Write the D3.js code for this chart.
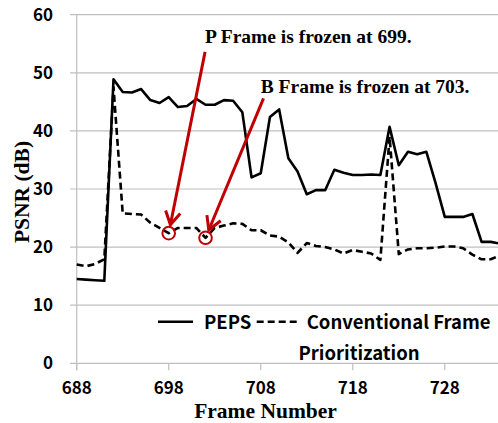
<!DOCTYPE html>
<html><head><meta charset="utf-8">
<script src="https://cdn.jsdelivr.net/npm/d3@7"></script>
<style>body{margin:0;background:#fff;}svg{display:block;}</style>
</head><body>
<svg id="c" width="498" height="423"></svg>
<script>
const frames = d3.range(688, 735);
const peps = [14.5,14.4,14.3,14.2,48.9,46.7,46.6,47.2,45.3,44.8,45.8,44.1,44.3,45.5,44.5,44.5,45.3,45.2,43.2,32.0,32.7,42.4,43.7,35.3,33.0,29.1,29.8,29.8,33.3,32.8,32.4,32.4,32.5,32.4,40.7,34.1,36.4,36.0,36.4,31.0,25.2,25.2,25.2,25.7,20.9,20.9,20.6];
const conv = [17.0,16.7,17.1,17.9,47.5,25.8,25.7,25.6,24.2,23.3,22.4,23.3,23.3,23.3,21.6,23.3,23.7,24.1,24.0,22.9,22.9,22.0,21.8,20.8,19.0,20.7,20.2,20.0,19.6,18.9,19.5,19.2,18.9,17.8,39.0,18.8,19.6,19.8,19.8,19.9,20.1,20.1,19.8,18.7,17.9,17.9,18.6];
const yTicks = [0,10,20,30,40,50,60];
const xTicks = [688,698,708,718,728];
const seriesNames = ["PEPS","Conventional Frame","Prioritization"];
const annotations = [
  {text:"P Frame is frozen at 699.", tx:701.95, ty:55.1, x0:701.95, y0:53.6, frame:698, value:22.4},
  {text:"B Frame is frozen at 703.", tx:708.0, ty:46.6, x0:708.3, y0:45.6, frame:702, value:21.6}
];

const svg = d3.select("#c");
const x = d3.scaleLinear().domain([688,734]).range([76.7,500]);
const y = d3.scaleLinear().domain([0,60]).range([363.3,14.7]);
const grid = "#bfbfbf";

svg.append("g").selectAll("line").data(yTicks).join("line")
  .attr("x1",70).attr("x2",500).attr("y1",d=>y(d)).attr("y2",d=>y(d))
  .attr("stroke",grid).attr("stroke-width",1.2);
svg.append("line").attr("x1",x(688)).attr("x2",x(688)).attr("y1",y(60)).attr("y2",y(0)+7)
  .attr("stroke",grid).attr("stroke-width",1.2);
svg.append("g").selectAll("line").data(xTicks).join("line")
  .attr("x1",d=>x(d)).attr("x2",d=>x(d)).attr("y1",y(0)).attr("y2",y(0)+7)
  .attr("stroke",grid).attr("stroke-width",1.2);

const tickFont = "'Noto Sans CJK KR','Noto Sans',sans-serif";
svg.append("g").selectAll("text").data(yTicks).join("text")
  .attr("x",53).attr("y",d=>y(d)).attr("dy","0.35em").attr("text-anchor","end")
  .attr("font-family",tickFont).attr("font-weight","bold").attr("font-size",17).text(d=>d);
svg.append("g").selectAll("text").data(xTicks).join("text")
  .attr("x",d=>x(d)).attr("y",394).attr("text-anchor","middle")
  .attr("font-family",tickFont).attr("font-weight","bold").attr("font-size",17).text(d=>d);

const serif = "'Liberation Serif','Times New Roman',serif";
svg.append("text").attr("transform","translate(29,192) rotate(-90)").attr("text-anchor","middle")
  .attr("font-family",serif).attr("font-weight","bold").attr("font-size",21.5).text("PSNR (dB)");
svg.append("text").attr("x",265.5).attr("y",418).attr("text-anchor","middle")
  .attr("font-family",serif).attr("font-weight","bold").attr("font-size",21.5).text("Frame Number");

const line = d3.line().x((d,i)=>x(frames[i])).y(d=>y(d));
svg.append("path").attr("d",line(conv)).attr("fill","none").attr("stroke","#000")
  .attr("stroke-width",2.6).attr("stroke-dasharray","7,4").attr("stroke-linejoin","round");
svg.append("path").attr("d",line(peps)).attr("fill","none").attr("stroke","#000")
  .attr("stroke-width",2.6).attr("stroke-linejoin","round");

const red = "#c00000";
annotations.forEach(a=>{
  const cx = x(a.frame), cy = y(a.value);
  svg.append("circle").attr("cx",cx).attr("cy",cy).attr("r",6.3)
    .attr("fill","none").attr("stroke",red).attr("stroke-width",2);
  const sx = x(a.x0), sy = y(a.y0);
  const ang = Math.atan2(cy - sy, cx - sx);
  const tx = cx - Math.cos(ang)*8.5, ty = cy - Math.sin(ang)*8.5;
  svg.append("line").attr("x1",sx).attr("y1",sy).attr("x2",tx).attr("y2",ty)
    .attr("stroke",red).attr("stroke-width",3);
  const L = 15, h = 0.52;
  const p1 = [tx - L*Math.cos(ang-h), ty - L*Math.sin(ang-h)];
  const p2 = [tx - L*Math.cos(ang+h), ty - L*Math.sin(ang+h)];
  svg.append("path").attr("d",`M${p1[0]},${p1[1]}L${tx},${ty}L${p2[0]},${p2[1]}`)
    .attr("fill","none").attr("stroke",red).attr("stroke-width",3).attr("stroke-linejoin","miter");
  svg.append("text").attr("x",x(a.tx)).attr("y",y(a.ty))
    .attr("font-family",serif).attr("font-weight","bold").attr("font-size",19.5).text(a.text);
});

const lg = svg.append("g");
lg.append("line").attr("x1",158).attr("x2",193).attr("y1",321.7).attr("y2",321.7)
  .attr("stroke","#000").attr("stroke-width",2.6);
lg.append("text").attr("x",204).attr("y",328.5).attr("font-family",tickFont).attr("font-weight","bold")
  .attr("font-size",18.5).text(seriesNames[0]);
lg.append("line").attr("x1",256.7).attr("x2",297).attr("y1",321.7).attr("y2",321.7)
  .attr("stroke","#000").attr("stroke-width",2.6).attr("stroke-dasharray","7,4");
lg.append("text").attr("x",306.7).attr("y",328.5).attr("font-family",tickFont).attr("font-weight","bold")
  .attr("font-size",18.5).text(seriesNames[1]);
lg.append("text").attr("x",359).attr("y",360).attr("text-anchor","middle").attr("font-family",tickFont).attr("font-weight","bold")
  .attr("font-size",18.5).text(seriesNames[2]);
</script>
</body></html>
